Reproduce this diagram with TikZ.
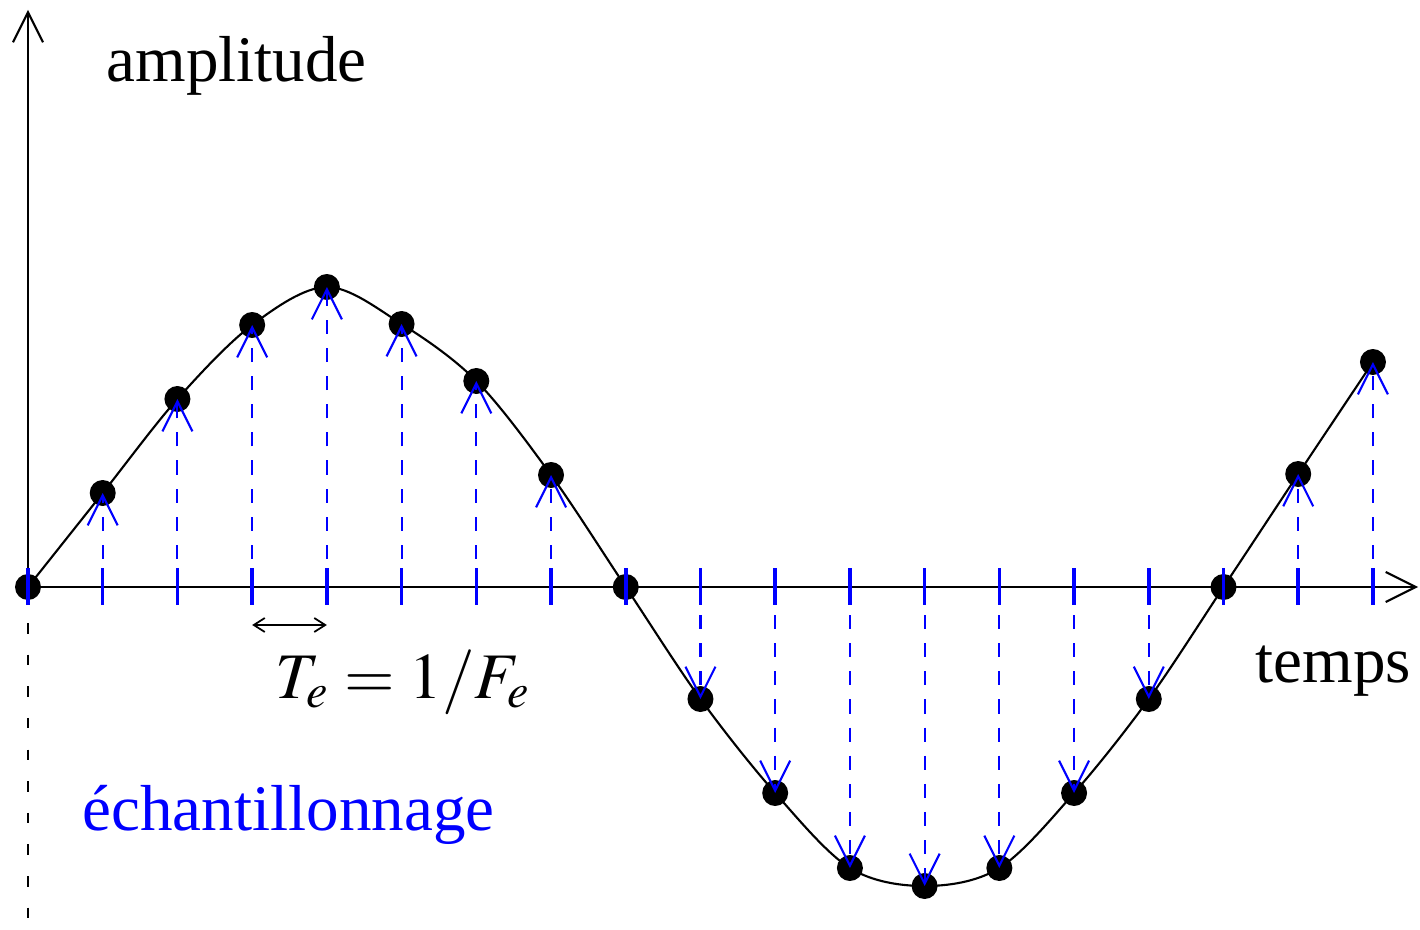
\documentclass[tikz,border=0pt]{standalone}
\usepackage{mathptmx}
\usepackage[no-math]{fontspec}
\setmainfont{Liberation Serif}
\usepackage{tikz}
\usetikzlibrary{arrows.meta}

\begin{document}
\begin{tikzpicture}[
			axis/.style = {line width=0.6pt, -{Straight Barb[length=3mm, width=3mm]}},
			sample dot/.style = {circle, fill=black, inner sep=0pt, minimum size=2.6mm},
			sample tick/.style = {draw=blue, line width=1pt},
			sample arrow/.style = {draw=blue, line width=0.6pt, dash pattern=on 4pt off 4pt,
				-{Straight Barb[length=3mm, width=3mm]}},
			label text/.style = {font=\fontsize{18.5}{22}\selectfont, inner sep=0pt, anchor=base west}
			]
			
			\useasboundingbox (-0.28,-3.42) rectangle (13.92,5.87);
			\def\dx{0.7472}
			
			% axes
			\coordinate (O) at (0,0);
			\coordinate (xend) at (13.90,0);
			\coordinate (yend) at (0,5.77);
			\coordinate (ybot) at (0,-3.42);
			\draw[axis] (O) -- (xend);
			\draw[axis] (O) -- (yend);
			\draw[line width=0.6pt, dash pattern=on 3pt off 6pt] ([yshift=-3.6mm]O) -- (ybot);
			
			% signal
			\draw[line width=0.6pt] plot[smooth, tension=0.55] coordinates {
				(0,0) (0.7472,0.94) (1.4944,1.88) (2.2416,2.62) (2.9888,3.00) (3.7360,2.63)
				(4.4832,2.06) (5.2304,1.12) (5.9776,0) (6.7248,-1.12) (7.4720,-2.06)
				(8.2192,-2.81) (8.9664,-2.99) (9.7136,-2.81) (10.4608,-2.06) (11.2080,-1.12)
				(11.9552,0) (12.7024,1.13) (13.4496,2.25)};
			
			% samples
			\foreach \k/\a in {0/0, 1/0.94, 2/1.88, 3/2.62, 4/3.00, 5/2.63, 6/2.06, 7/1.12,
				8/0, 9/-1.12, 10/-2.06, 11/-2.81, 12/-2.99, 13/-2.81, 14/-2.06, 15/-1.12,
				16/0, 17/1.13, 18/2.25} {
				\coordinate (t\k) at (\k*\dx, 0);
				\node[sample dot] (s\k) at (\k*\dx, \a) {};
				\draw[sample tick] ([yshift=1.9mm]t\k) -- ([yshift=-1.8mm]t\k);
				\ifdim\a pt=0pt\else
				\draw[sample arrow] (t\k) -- (s\k.center);
				\fi
			}
			
			\draw[line width=0.5pt, {Straight Barb[length=1.1mm, width=1.4mm]}-{Straight Barb[length=1.1mm, width=1.4mm]}]
				([yshift=-3.8mm]t3) -- ([yshift=-3.8mm]t4);
			
			\node[label text] (amp) at (0.78,5.05) {amplitude};
			\node[label text] (temps) at (12.27,-0.95) {temps};
			\node[label text] (periode) at (2.47,-1.11) {$T_e = 1/F_e$};
			\node[label text, text=blue] (echant) at (0.54,-2.43) {échantillonnage};
			
		\end{tikzpicture}
\end{document}
